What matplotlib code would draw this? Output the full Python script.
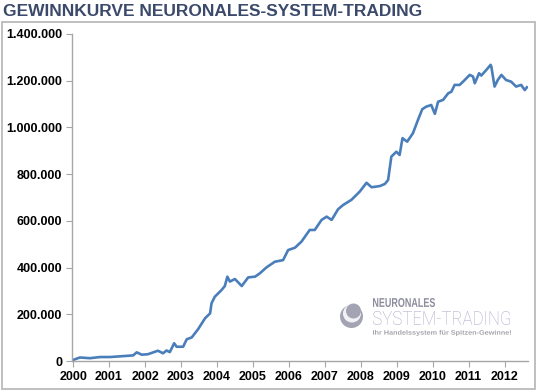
import matplotlib.pyplot as plt
from matplotlib.patches import Rectangle, Ellipse, PathPatch
from matplotlib.textpath import TextPath
from matplotlib.font_manager import FontProperties
from matplotlib.transforms import Affine2D
from matplotlib.ticker import FuncFormatter

# Equity curve (decimal year, value in EUR)
years = [2000.01, 2000.19, 2000.47, 2000.75, 2001.03, 2001.31, 2001.67, 2001.77,
         2001.91, 2002.08, 2002.36, 2002.50, 2002.60, 2002.69, 2002.81, 2002.88,
         2003.06, 2003.16, 2003.30, 2003.48, 2003.67, 2003.81, 2003.85, 2003.94,
         2004.13, 2004.22, 2004.29, 2004.36, 2004.50, 2004.69, 2004.87, 2005.06,
         2005.19, 2005.38, 2005.61, 2005.84, 2005.98, 2006.17, 2006.35, 2006.58,
         2006.72, 2006.91, 2007.05, 2007.19, 2007.37, 2007.51, 2007.74, 2007.97,
         2008.16, 2008.30, 2008.53, 2008.67, 2008.76, 2008.85, 2008.99, 2009.08,
         2009.16, 2009.29, 2009.45, 2009.59, 2009.71, 2009.82, 2009.96, 2010.06,
         2010.15, 2010.29, 2010.43, 2010.52, 2010.61, 2010.75, 2010.89, 2011.03,
         2011.12, 2011.17, 2011.29, 2011.35, 2011.49, 2011.61, 2011.63, 2011.72,
         2011.81, 2011.91, 2012.04, 2012.18, 2012.32, 2012.46, 2012.56, 2012.62]
equity = [5000, 15000, 12000, 17000, 17000, 20000, 24000, 37000,
          27000, 29000, 44000, 33000, 45000, 38000, 76000, 61000,
          61000, 93000, 101000, 137000, 183000, 204000, 247000, 275000,
          304000, 321000, 361000, 340000, 351000, 321000, 358000, 361000,
          375000, 401000, 425000, 432000, 475000, 485000, 511000, 561000,
          561000, 604000, 618000, 604000, 650000, 668000, 690000, 725000,
          763000, 744000, 749000, 758000, 775000, 875000, 896000, 882000,
          954000, 939000, 975000, 1032000, 1078000, 1089000, 1096000, 1058000,
          1110000, 1118000, 1146000, 1153000, 1182000, 1182000, 1203000, 1225000,
          1218000, 1189000, 1232000, 1222000, 1246000, 1268000, 1261000, 1175000,
          1203000, 1225000, 1203000, 1196000, 1175000, 1182000, 1160000, 1172000]

x_ticks = list(range(2000, 2013))
y_ticks = [0, 200000, 400000, 600000, 800000, 1000000, 1200000, 1400000]

plt.rcParams['font.family'] = ['Liberation Sans', 'DejaVu Sans']

W, H = 537, 391
fig = plt.figure(figsize=(W / 100, H / 100), dpi=100)

# outer frame and title
fig.patches.append(Rectangle((2 / W, 2 / H), 533 / W, 367 / H,
                             transform=fig.transFigure, fill=False,
                             edgecolor='#b4b4b4', linewidth=1.2))
fig.text(3 / W, 1 - 11 / H, 'GEWINNKURVE NEURONALES-SYSTEM-TRADING',
         fontsize=12.5, fontweight='bold', color='#3b4a6b', va='center', ha='left')

ax = fig.add_axes([72 / W, 30 / H, 456 / W, 327 / H])
ax.plot(years, equity, color='#4a7ebb', linewidth=1.9, solid_joinstyle='round')

ax.set_xlim(1999.97, 2012.65)
ax.set_ylim(0, 1400000)
ax.set_xticks(x_ticks)
ax.set_yticks(y_ticks)
ax.yaxis.set_major_formatter(FuncFormatter(lambda v, p: f'{int(v):,}'.replace(',', '.')))

for s in ['top', 'right']:
    ax.spines[s].set_visible(False)
for s in ['left', 'bottom']:
    ax.spines[s].set_color('#a6a6a6')
    ax.spines[s].set_linewidth(1.0)
ax.tick_params(axis='both', direction='out', length=4, color='#a6a6a6',
               labelsize=9, pad=3)
for lbl in ax.get_xticklabels() + ax.get_yticklabels():
    lbl.set_fontweight('bold')


# logo (pixel coordinates, y measured from top)
def disc(cx, cy, r, color):
    fig.patches.append(Ellipse((cx / W, 1 - cy / H), 2 * r / W, 2 * r / H,
                               transform=fig.transFigure, facecolor=color,
                               edgecolor='none'))


def fitted_text(s, x0, x1, y_top, y_bot, color, **font):
    path = TextPath((0, 0), s, size=10, prop=FontProperties(**font))
    ext = path.get_extents()
    sx = (x1 - x0) / ext.width
    sy = (y_bot - y_top) / ext.height
    tr = Affine2D().translate(-ext.x0, -ext.y0).scale(sx, sy).translate(x0, H - y_bot)
    fig.patches.append(PathPatch(tr.transform_path(path), transform=None,
                                 facecolor=color, edgecolor='none'))


disc(351.5, 316.5, 11.5, '#a3a3b4')
disc(352.0, 313.5, 9.0, '#f2f2f6')
disc(353.5, 311.0, 7.5, '#a3a3b4')

fitted_text('NEURONALES', 373, 435, 298, 307, '#8c8c9c',
            family='Liberation Sans', weight='bold')
fitted_text('SYSTEM-TRADING', 373, 510, 311, 325, '#aaa8c6',
            family='Roboto', weight='light')
fitted_text('Ihr Handelssystem für Spitzen-Gewinne!', 373, 511, 330, 336, '#a4a4ac',
            family='Liberation Sans', weight='bold')

fig.savefig('out.png', dpi=100)
